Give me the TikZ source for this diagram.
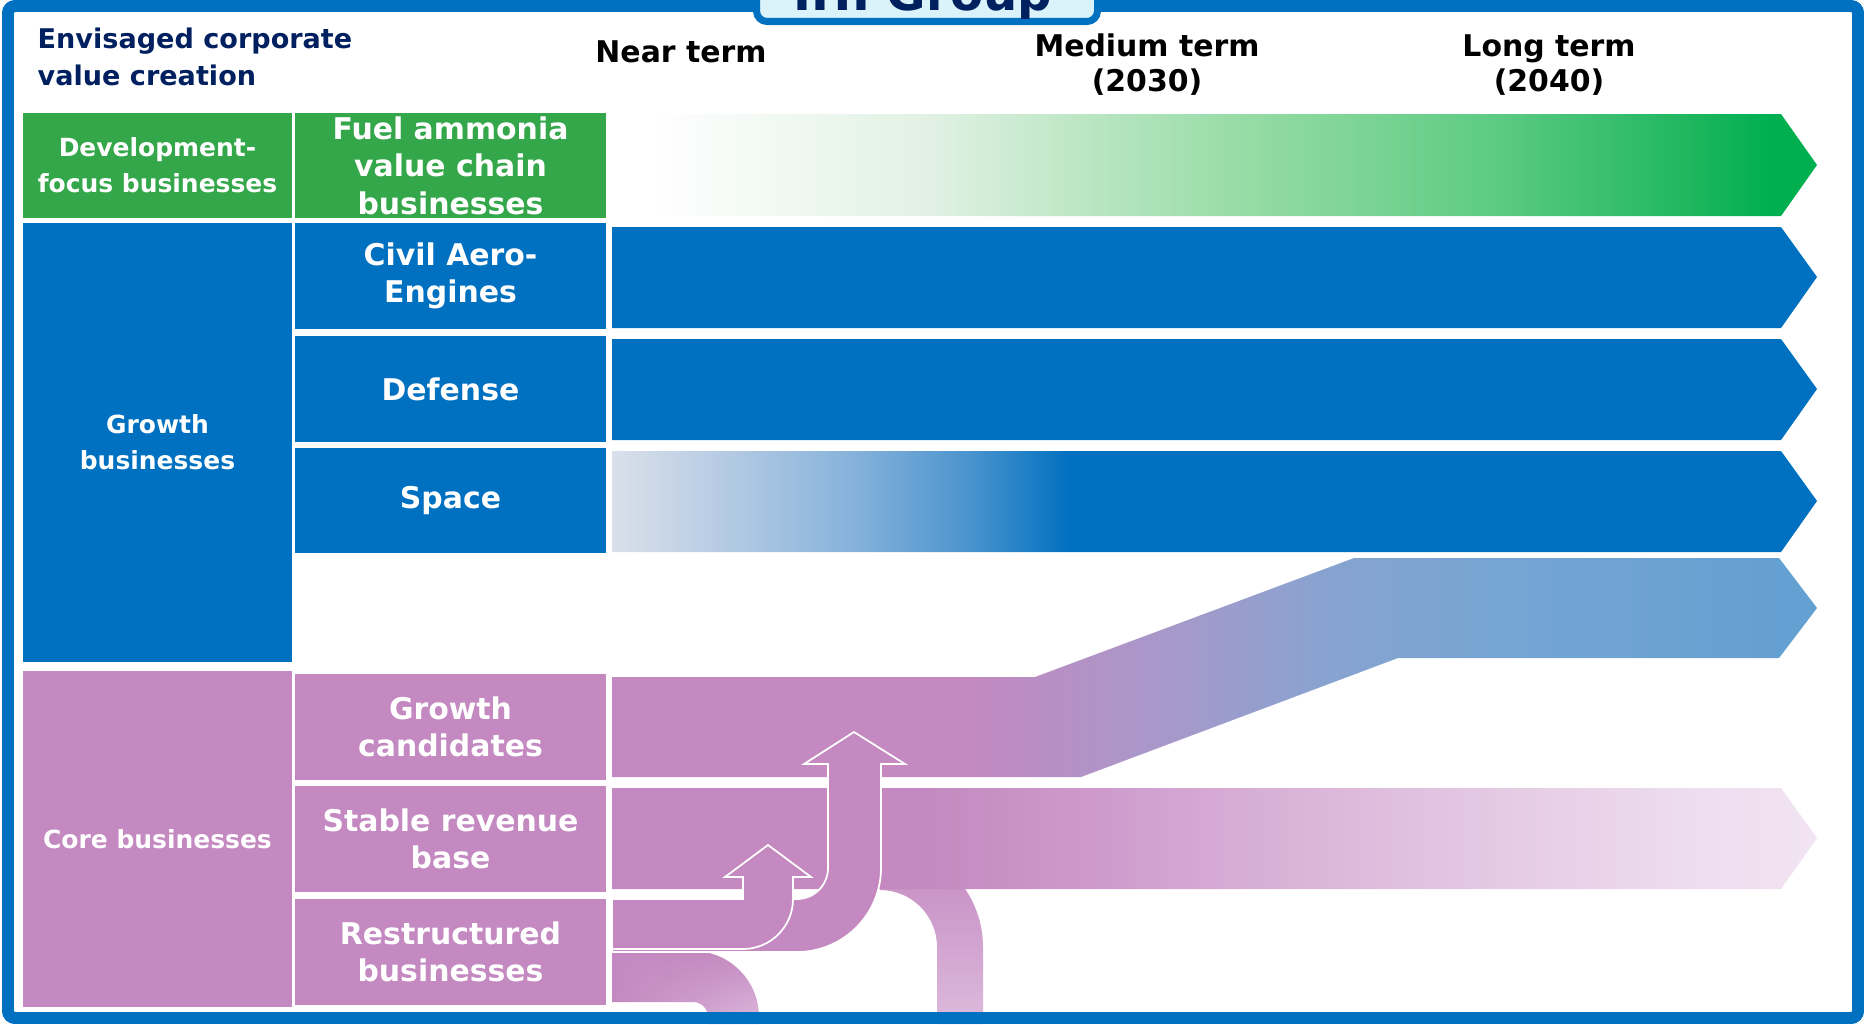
\documentclass[tikz,border=0pt]{standalone}
\usepackage{fontspec}
\setmainfont{DejaVu Sans}
\usepackage{tikz}
\usetikzlibrary{shadings}

\definecolor{frameblue}{HTML}{0070C0}
\definecolor{tabfill}{HTML}{DAF2FA}
\definecolor{navy}{HTML}{002060}
\definecolor{devgreen}{HTML}{35A74B}
\definecolor{growblue}{HTML}{0070C0}
\definecolor{corepink}{HTML}{C389C0}
\definecolor{branchlight}{HTML}{DDBADD}
\definecolor{arrowgreen}{HTML}{00B050}
\definecolor{ammoniaA}{HTML}{E0F1E3}
\definecolor{ammoniaB}{HTML}{B7E5C0}
\definecolor{ammoniaC}{HTML}{8AD89C}
\definecolor{ammoniaD}{HTML}{5CCB82}
\definecolor{ammoniaE}{HTML}{1BB55C}
\definecolor{spaceA}{HTML}{DAE0EA}
\definecolor{spaceB}{HTML}{B2C9E3}
\definecolor{spaceC}{HTML}{88B3DB}
\definecolor{spaceD}{HTML}{4E95CE}
\definecolor{candA}{HTML}{A898CA}
\definecolor{candB}{HTML}{88A3D0}
\definecolor{candC}{HTML}{76A5D3}
\definecolor{candD}{HTML}{64A0D1}
\definecolor{stableA}{HTML}{CE9BCC}
\definecolor{stableB}{HTML}{DAB4D9}
\definecolor{stableC}{HTML}{E5CAE4}
\definecolor{stableD}{HTML}{EEDDEF}
\definecolor{stableE}{HTML}{F1E4F2}

\pgfdeclarehorizontalshading{ammoniafade}{100bp}{%
color(0bp)=(white); color(26.6bp)=(white); color(38.3bp)=(ammoniaA);%
color(45.2bp)=(ammoniaB); color(53.5bp)=(ammoniaC); color(61.8bp)=(ammoniaD);%
color(70.1bp)=(ammoniaE); color(73bp)=(arrowgreen); color(100bp)=(arrowgreen)}
\pgfdeclarehorizontalshading{spacefade}{100bp}{%
color(0bp)=(spaceA); color(25bp)=(spaceA); color(30bp)=(spaceB);%
color(34.8bp)=(spaceC); color(39.6bp)=(spaceD); color(44bp)=(growblue);%
color(100bp)=(growblue)}
\pgfdeclarehorizontalshading{candfade}{100bp}{%
color(0bp)=(corepink); color(39.6bp)=(corepink); color(47.9bp)=(candA);%
color(54.6bp)=(candB); color(61.8bp)=(candC); color(73.5bp)=(candD);%
color(100bp)=(candD)}
\pgfdeclarehorizontalshading{stablefade}{100bp}{%
color(0bp)=(corepink); color(37.9bp)=(corepink); color(45.2bp)=(stableA);%
color(53.5bp)=(stableB); color(61.8bp)=(stableC); color(70.1bp)=(stableD);%
color(75bp)=(stableE); color(100bp)=(stableE)}

\begin{document}
\begin{tikzpicture}[
            x=0.01cm, y=-0.01cm,
            leftbox/.style={rectangle, inner sep=0pt, text=white, align=center,
                minimum width=2.69cm, font=\fontsize{7.1}{10.2}\selectfont\bfseries},
            midbox/.style={rectangle, inner sep=0pt, text=white, align=center,
                minimum width=3.11cm, minimum height=1.06cm, font=\fontsize{8.5}{10.7}\selectfont\bfseries},
            termlabel/.style={anchor=base, inner sep=0pt, font=\fontsize{8.5}{10}\selectfont\bfseries},
            flowarrow/.style={draw=white, line width=0.5pt, fill=corepink}
        ]
            \useasboundingbox (0,0) rectangle (1864,1024);

            \node[anchor=base west, inner sep=0pt, text=navy, font=\fontsize{7.7}{10}\selectfont\bfseries] (envisaged) at (37,48) {Envisaged corporate};
            \node[anchor=base west, inner sep=0pt, text=navy, font=\fontsize{7.7}{10}\selectfont\bfseries] (valuecreation) at (37,85) {value creation};
            \node[termlabel] (near) at (681,62) {Near term};
            \node[termlabel] (medium) at (1147,56) {Medium term};
            \node[termlabel] (mediumyear) at (1147,91) {(2030)};
            \node[termlabel] (long) at (1549,56) {Long term};
            \node[termlabel] (longyear) at (1549,91) {(2040)};

            \shade[shading=ammoniafade] (612,114) -- (1781,114) -- (1817,165) -- (1781,216) -- (612,216) -- cycle;
            \foreach \top/\tip/\bot in {227/277/328, 339/389/440} {
                \fill[growblue] (612,\top) -- (1781,\top) -- (1817,\tip) -- (1781,\bot) -- (612,\bot) -- cycle;
            }
            \shade[shading=spacefade] (612,451) -- (1781,451) -- (1817,501) -- (1781,552) -- (612,552) -- cycle;
            \shade[shading=candfade] (612,677) -- (1035,677) -- (1354,558) -- (1779,558) -- (1817,608)
                -- (1779,658) -- (1398,658) -- (1081,777) -- (612,777) -- cycle;

            \shade[top color=corepink, bottom color=branchlight] (880,890) arc[start angle=270, end angle=360, radius=57]
                -- (937,1024) -- (983,1024) -- (983,947) arc[start angle=0, end angle=-90, radius=103] -- cycle;
            \shade[shading=stablefade] (612,788) -- (1781,788) -- (1817,838) -- (1781,889) -- (612,889) -- cycle;

            \shade[upper left=corepink, upper right=corepink, lower left=corepink, lower right=branchlight] (612,951) -- (693,951)
                arc[start angle=270, end angle=360, radius=66] -- (759,1024) -- (708,1024) -- (708,1017)
                arc[start angle=0, end angle=-90, radius=15] -- (612,1002) -- cycle;

            \filldraw[flowarrow] (612,899) -- (797,899) arc[start angle=90, end angle=0, radius=31]
                -- (828,764) -- (804,764) -- (854,732) -- (905,764) -- (881,764) -- (881,868)
                arc[start angle=0, end angle=90, radius=84] -- (612,952) -- cycle;
            \filldraw[flowarrow] (612,899) -- (743,899) -- (743,877) -- (725,877) -- (768,845) -- (811,877)
                -- (793,877) -- (793,899) arc[start angle=0, end angle=90, radius=50] -- (612,949) -- cycle;

            \node[leftbox, fill=devgreen, minimum height=1.05cm] (devfocus) at (157.5,165.5) {Development-\\focus businesses};
            \node[midbox, fill=devgreen, minimum height=1.05cm] (ammonia) at (450.5,165.5) {Fuel ammonia\\value chain\\businesses};
            \node[leftbox, fill=growblue, minimum height=4.39cm] (growth) at (157.5,442.5) {Growth\\businesses};
            \node[midbox, fill=growblue] (aero) at (450.5,276) {Civil Aero-\\Engines};
            \node[midbox, fill=growblue] (defense) at (450.5,389) {Defense};
            \node[midbox, fill=growblue, minimum height=1.05cm] (space) at (450.5,500.5) {Space};
            \node[leftbox, fill=corepink, minimum height=3.36cm] (core) at (157.5,839) {Core businesses};
            \node[midbox, fill=corepink] (candidates) at (450.5,727) {Growth\\candidates};
            \node[midbox, fill=corepink] (stable) at (450.5,839) {Stable revenue\\base};
            \node[midbox, fill=corepink] (restructured) at (450.5,952) {Restructured\\businesses};

            \draw[frameblue, line width=3.4pt, rounded corners=2pt] (8,6) rectangle (1858,1018);
            \draw[frameblue, fill=tabfill, line width=2pt, rounded corners=3pt] (756.5,-20) rectangle (1097.5,21.5);
            \begin{scope}
                \clip (760,-30) rectangle (1094,18);
                \node[anchor=base, inner sep=0pt, text=navy, font=\fontsize{13.7}{16}\selectfont\bfseries] (title) at (923,10) {IHI Group};
            \end{scope}
        \end{tikzpicture}
\end{document}
